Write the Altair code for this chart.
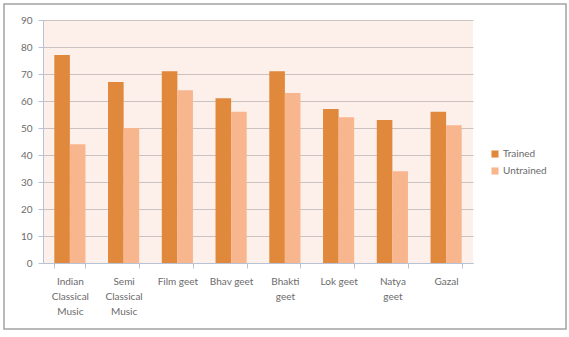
import altair as alt
import pandas as pd

genres = [
    "Indian|Classical|Music",
    "Semi|Classical|Music",
    "Film geet",
    "Bhav geet",
    "Bhakti|geet",
    "Lok geet",
    "Natya|geet",
    "Gazal",
]
trained = [77, 67, 71, 61, 71, 57, 53, 56]
untrained = [44, 50, 64, 56, 63, 54, 34, 51]
groups = ["Trained", "Untrained"]
colors = ["#E0883C", "#F8B68E"]

rows = []
for g, t, u in zip(genres, trained, untrained):
    rows.append({"genre": g, "group": "Trained", "value": t})
    rows.append({"genre": g, "group": "Untrained", "value": u})
df = pd.DataFrame(rows)

font = "Lato"
text_color = "#6b6b6b"

bars = alt.Chart(df).mark_bar().encode(
    x=alt.X(
        "genre:N",
        sort=genres,
        title=None,
        scale=alt.Scale(paddingInner=0.42, paddingOuter=0.21),
        axis=alt.Axis(
            labelAngle=0,
            labelExpr="split(datum.label, '|')",
            labelFont=font,
            labelFontSize=10,
            labelColor=text_color,
            labelLineHeight=15,
            labelPadding=8,
            labelBaseline="top",
            domainColor="#b7c3d4",
            tickColor="#b7c3d4",
            tickBand="extent",
            tickSize=5,
            grid=False,
        ),
    ),
    xOffset=alt.XOffset("group:N", sort=groups),
    y=alt.Y(
        "value:Q",
        title=None,
        scale=alt.Scale(domain=[0, 90]),
        axis=alt.Axis(
            values=list(range(0, 91, 10)),
            labelFont=font,
            labelFontSize=10,
            labelColor=text_color,
            labelPadding=6,
            domainColor="#b7c3d4",
            tickColor="#b7c3d4",
            tickSize=5,
            gridColor="#c9c2c0",
            gridWidth=1,
        ),
    ),
    color=alt.Color(
        "group:N",
        sort=groups,
        scale=alt.Scale(domain=groups, range=colors),
        legend=alt.Legend(
            title=None,
            orient="none",
            legendX=447,
            legendY=129,
            symbolType="square",
            symbolSize=50,
            symbolStrokeWidth=0,
            labelFont=font,
            labelFontSize=10,
            labelColor=text_color,
            rowPadding=7,
            labelOffset=3,
        ),
    ),
)

# outer frame drawn around the whole figure
frame = alt.Chart(pd.DataFrame({"a": [0]})).mark_rect(
    fill=None, stroke="#a3a3a3", strokeWidth=1.5
).encode(
    x=alt.value(-39), x2=alt.value(523), y=alt.value(-16), y2=alt.value(309)
)

chart = (
    alt.layer(bars, frame)
    .properties(
        width=430,
        height=243,
        autosize=alt.AutoSizeParams(type="none"),
        padding={"left": 43, "top": 20, "right": 96, "bottom": 74},
        background="white",
    )
    .configure_view(fill="#fdf0ea", stroke=None)
)

chart.save("out.html", embed_options={"renderer": "svg", "actions": False})
